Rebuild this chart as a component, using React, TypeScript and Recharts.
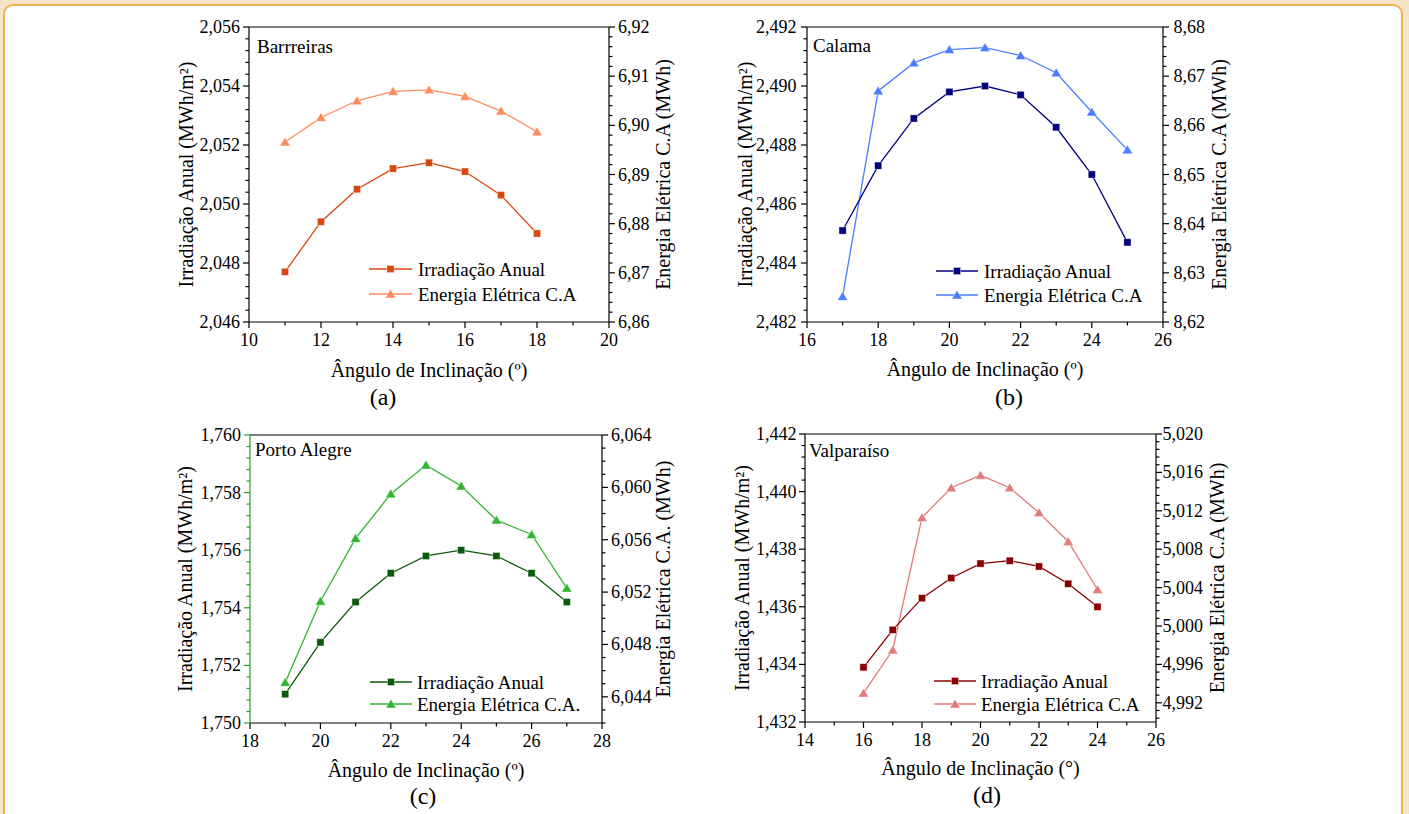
import { LineChart, Line, XAxis, YAxis, ReferenceLine } from 'recharts';

const FONT = '"Liberation Serif", "Times New Roman", Times, serif';

// (a) Barrreiras
const anglesA = [11, 12, 13, 14, 15, 16, 17, 18];
const irradA = [2.0477, 2.0494, 2.0505, 2.0512, 2.0514, 2.0511, 2.0503, 2.049];
const energiaA = [6.8966, 6.9016, 6.905, 6.9069, 6.9072, 6.9059, 6.9029, 6.8987];
const xTicksA = [10, 12, 14, 16, 18, 20];
const leftTicksA = [2.046, 2.048, 2.05, 2.052, 2.054, 2.056];
const rightTicksA = [6.86, 6.87, 6.88, 6.89, 6.9, 6.91, 6.92];

// (b) Calama
const anglesB = [17, 18, 19, 20, 21, 22, 23, 24, 25];
const irradB = [2.4851, 2.4873, 2.4889, 2.4898, 2.49, 2.4897, 2.4886, 2.487, 2.4847];
const energiaB = [8.6252, 8.667, 8.6727, 8.6754, 8.6758, 8.6742, 8.6707, 8.6627, 8.655];
const xTicksB = [16, 18, 20, 22, 24, 26];
const leftTicksB = [2.482, 2.484, 2.486, 2.488, 2.49, 2.492];
const rightTicksB = [8.62, 8.63, 8.64, 8.65, 8.66, 8.67, 8.68];

// (c) Porto Alegre
const anglesC = [19, 20, 21, 22, 23, 24, 25, 26, 27];
const irradC = [1.751, 1.7528, 1.7542, 1.7552, 1.7558, 1.756, 1.7558, 1.7552, 1.7542];
const energiaC = [6.0451, 6.0513, 6.0561, 6.0595, 6.0617, 6.0601, 6.0575, 6.0564, 6.0523];
const xTicksC = [18, 20, 22, 24, 26, 28];
const leftTicksC = [1.75, 1.752, 1.754, 1.756, 1.758, 1.76];
const rightTicksC = [6.044, 6.048, 6.052, 6.056, 6.06, 6.064];

// (d) Valparaíso
const anglesD = [16, 17, 18, 19, 20, 21, 22, 23, 24];
const irradD = [1.4339, 1.4352, 1.4363, 1.437, 1.4375, 1.4376, 1.4374, 1.4368, 1.436];
const energiaD = [4.993, 4.9975, 5.0113, 5.0144, 5.0157, 5.0144, 5.0118, 5.0088, 5.0038];
const xTicksD = [14, 16, 18, 20, 22, 24, 26];
const leftTicksD = [1.432, 1.434, 1.436, 1.438, 1.44, 1.442];
const rightTicksD = [4.992, 4.996, 5.0, 5.004, 5.008, 5.012, 5.016, 5.02];

const fmt = (d: number) => (v: number) => v.toFixed(d).replace('.', ',');

// majors plus evenly spaced minor ticks inside [lo, hi]
function withMinors(majors: number[], sub: number, lo: number, hi: number) {
  const step = (majors[1] - majors[0]) / sub;
  const out: number[] = [];
  for (let k = -200; k <= 200; k++) {
    const v = +(majors[0] + k * step).toFixed(7);
    if (v >= lo - step * 1e-3 && v <= hi + step * 1e-3) out.push(v);
  }
  return out;
}

type Side = 'left' | 'right' | 'bottom';

function axisTick(side: Side, majors: number[], format: (v: number) => string, color: string, gap: number) {
  return (props: any) => {
    const { x, y, payload, index } = props;
    const v = payload.value;
    const isMajor = majors.some((m) => Math.abs(m - v) < 1e-7);
    const len = isMajor ? 6 : 3.5;
    const ls = { stroke: color, strokeWidth: 1.2 };
    const ts = { fontFamily: FONT, fontSize: 18, fill: '#000' };
    if (side === 'bottom') {
      return (
        <g key={`b${index}`}>
          <line x1={x} x2={x} y1={y} y2={y + len} {...ls} />
          {isMajor && (
            <text x={x} y={y + 24} textAnchor="middle" {...ts}>
              {format(v)}
            </text>
          )}
        </g>
      );
    }
    const dir = side === 'left' ? -1 : 1;
    return (
      <g key={`${side}${index}`}>
        <line x1={x} x2={x + dir * len} y1={y} y2={y} {...ls} />
        {isMajor && (
          <text x={x + dir * gap} y={y + 6} textAnchor={side === 'left' ? 'end' : 'start'} {...ts}>
            {format(v)}
          </text>
        )}
      </g>
    );
  };
}

const squareDot = (color: string) => (p: any) => (
  <rect
    key={`s${p.index}`}
    x={p.cx - 3.6}
    y={p.cy - 3.6}
    width={7.2}
    height={7.2}
    fill={color}
    stroke="#ffffff"
    strokeOpacity={0.6}
    strokeWidth={0.7}
  />
);

const triangleDot = (color: string) => (p: any) => (
  <polygon
    key={`t${p.index}`}
    points={`${p.cx},${p.cy - 4.8} ${p.cx - 5.2},${p.cy + 3.9} ${p.cx + 5.2},${p.cy + 3.9}`}
    fill={color}
    stroke="#ffffff"
    strokeOpacity={0.6}
    strokeWidth={0.7}
  />
);

type Panel = {
  angles: number[];
  irrad: number[];
  energia: number[];
  xTicks: number[];
  leftTicks: number[];
  rightTicks: number[];
  xDomain: [number, number];
  leftDomain: [number, number];
  rightDomain: [number, number];
  leftSub: number;
  rightSub: number;
  leftDec: number;
  rightDec: number;
  plot: { x: number; y: number; w: number; h: number };
  sqColor: string;
  triColor: string;
  leftAxisColor: string;
  gapL: number;
  gapR: number;
  city: string;
  cityBase: number;
  cityX: number;
  titleLX: number;
  titleRX: number;
  rightTitle: string;
  xTitle: string;
  xTitleBase: number;
  caption: string;
  capX: number;
  capBase: number;
  legend: { l1: number; l2: number; tx: number; r1: number; r2: number };
  energiaLabel: string;
};

const panels: Panel[] = [
  {
    angles: anglesA, irrad: irradA, energia: energiaA,
    xTicks: xTicksA, leftTicks: leftTicksA, rightTicks: rightTicksA,
    xDomain: [10, 20], leftDomain: [2.046, 2.056], rightDomain: [6.86, 6.92],
    leftSub: 5, rightSub: 5, leftDec: 3, rightDec: 2,
    plot: { x: 249, y: 27, w: 360, h: 295 },
    sqColor: '#d9480f', triColor: '#ff8a5b', leftAxisColor: '#000',
    gapL: 9, gapR: 9,
    city: 'Barrreiras', cityX: 257, cityBase: 53,
    titleLX: 186, titleRX: 663,
    rightTitle: 'Energia Elétrica C.A (MWh)',
    xTitle: 'Ângulo de Inclinação (º)', xTitleBase: 377,
    caption: '(a)', capX: 383, capBase: 405,
    legend: { l1: 369, l2: 412, tx: 418, r1: 269, r2: 294 },
    energiaLabel: 'Energia Elétrica C.A',
  },
  {
    angles: anglesB, irrad: irradB, energia: energiaB,
    xTicks: xTicksB, leftTicks: leftTicksB, rightTicks: rightTicksB,
    xDomain: [16, 26], leftDomain: [2.482, 2.492], rightDomain: [8.62, 8.68],
    leftSub: 5, rightSub: 5, leftDec: 3, rightDec: 2,
    plot: { x: 807, y: 27, w: 356, h: 295 },
    sqColor: '#00007f', triColor: '#4a7dff', leftAxisColor: '#000',
    gapL: 10.5, gapR: 10.5,
    city: 'Calama', cityX: 813, cityBase: 52,
    titleLX: 745, titleRX: 1219,
    rightTitle: 'Energia Elétrica C.A (MWh)',
    xTitle: 'Ângulo de Inclinação (º)', xTitleBase: 376,
    caption: '(b)', capX: 1009, capBase: 405,
    legend: { l1: 936, l2: 978, tx: 984, r1: 271, r2: 295 },
    energiaLabel: 'Energia Elétrica C.A',
  },
  {
    angles: anglesC, irrad: irradC, energia: energiaC,
    xTicks: xTicksC, leftTicks: leftTicksC, rightTicks: rightTicksC,
    xDomain: [18, 28], leftDomain: [1.75, 1.76], rightDomain: [6.042, 6.064],
    leftSub: 5, rightSub: 4, leftDec: 3, rightDec: 3,
    plot: { x: 250, y: 435, w: 352, h: 288 },
    sqColor: '#0b5a0b', triColor: '#33b533', leftAxisColor: '#2a9a2a',
    gapL: 9, gapR: 9,
    city: 'Porto Alegre', cityX: 255, cityBase: 456,
    titleLX: 185, titleRX: 663,
    rightTitle: 'Energia Elétrica C.A. (MWh)',
    xTitle: 'Ângulo de Inclinação (º)', xTitleBase: 777,
    caption: '(c)', capX: 423, capBase: 804,
    legend: { l1: 370, l2: 412, tx: 417, r1: 682, r2: 704 },
    energiaLabel: 'Energia Elétrica C.A.',
  },
  {
    angles: anglesD, irrad: irradD, energia: energiaD,
    xTicks: xTicksD, leftTicks: leftTicksD, rightTicks: rightTicksD,
    xDomain: [14, 26], leftDomain: [1.432, 1.442], rightDomain: [4.99, 5.02],
    leftSub: 5, rightSub: 5, leftDec: 3, rightDec: 3,
    plot: { x: 805, y: 434, w: 351, h: 288 },
    sqColor: '#8b0000', triColor: '#e07b7b', leftAxisColor: '#000',
    gapL: 8.5, gapR: 6.5,
    city: 'Valparaíso', cityX: 809, cityBase: 457,
    titleLX: 742, titleRX: 1217,
    rightTitle: 'Energia Elétrica C.A (MWh)',
    xTitle: 'Ângulo de Inclinação (°)', xTitleBase: 775,
    caption: '(d)', capX: 987, capBase: 803,
    legend: { l1: 934, l2: 976, tx: 981, r1: 681, r2: 704 },
    energiaLabel: 'Energia Elétrica C.A',
  },
];

const PAD = 100;

function PanelChart({ p }: { p: Panel }) {
  const data = p.angles.map((a, i) => ({ angle: a, irrad: p.irrad[i], energia: p.energia[i] }));
  const W = p.plot.w + PAD * 2;
  const H = p.plot.h + 10 + 40;
  const xAll = withMinors(p.xTicks, 2, p.xDomain[0], p.xDomain[1]);
  const lAll = withMinors(p.leftTicks, p.leftSub, p.leftDomain[0], p.leftDomain[1]);
  const rAll = withMinors(p.rightTicks, p.rightSub, p.rightDomain[0], p.rightDomain[1]);
  return (
    <div style={{ position: 'absolute', left: p.plot.x - PAD, top: p.plot.y - 10, width: W, height: H }}>
      <LineChart width={W} height={H} data={data} margin={{ top: 10, right: 0, bottom: 0, left: 0 }}>
        <XAxis
          dataKey="angle"
          type="number"
          domain={p.xDomain}
          ticks={xAll}
          interval={0}
          height={40}
          tickSize={0}
          tickMargin={0}
          tickLine={false}
          axisLine={{ stroke: '#000', strokeWidth: 1.2 }}
          tick={axisTick('bottom', p.xTicks, fmt(0), '#000', 0)}
        />
        <YAxis
          yAxisId="left"
          type="number"
          domain={p.leftDomain}
          ticks={lAll}
          interval={0}
          width={PAD}
          tickSize={0}
          tickMargin={0}
          tickLine={false}
          axisLine={{ stroke: p.leftAxisColor, strokeWidth: 1.2 }}
          tick={axisTick('left', p.leftTicks, fmt(p.leftDec), p.leftAxisColor, p.gapL)}
        />
        <YAxis
          yAxisId="right"
          orientation="right"
          type="number"
          domain={p.rightDomain}
          ticks={rAll}
          interval={0}
          width={PAD}
          tickSize={0}
          tickMargin={0}
          tickLine={false}
          axisLine={{ stroke: '#000', strokeWidth: 1.2 }}
          tick={axisTick('right', p.rightTicks, fmt(p.rightDec), '#000', p.gapR)}
        />
        <ReferenceLine yAxisId="left" y={p.leftDomain[1]} stroke="#000" strokeWidth={1.2} />
        <Line
          yAxisId="right"
          dataKey="energia"
          stroke={p.triColor}
          strokeWidth={1.3}
          dot={triangleDot(p.triColor)}
          activeDot={false}
          isAnimationActive={false}
        />
        <Line
          yAxisId="left"
          dataKey="irrad"
          stroke={p.sqColor}
          strokeWidth={1.3}
          dot={squareDot(p.sqColor)}
          activeDot={false}
          isAnimationActive={false}
        />
      </LineChart>
    </div>
  );
}

function PanelText({ p }: { p: Panel }) {
  const cy = p.plot.y + p.plot.h / 2;
  const cx = p.plot.x + p.plot.w / 2;
  const lm = (p.legend.l1 + p.legend.l2) / 2;
  const t = { fontFamily: FONT, fill: '#000' };
  return (
    <g>
      <text x={p.cityX} y={p.cityBase} fontSize={19} {...t}>
        {p.city}
      </text>
      <text
        x={p.titleLX}
        y={cy}
        fontSize={20}
        textAnchor="middle"
        dominantBaseline="central"
        transform={`rotate(-90 ${p.titleLX} ${cy})`}
        {...t}
      >
        Irradiação Anual (MWh/m²)
      </text>
      <text
        x={p.titleRX}
        y={cy}
        fontSize={20}
        textAnchor="middle"
        dominantBaseline="central"
        transform={`rotate(-90 ${p.titleRX} ${cy})`}
        {...t}
      >
        {p.rightTitle}
      </text>
      <text x={cx} y={p.xTitleBase} fontSize={20} textAnchor="middle" {...t}>
        {p.xTitle}
      </text>
      <text x={p.capX} y={p.capBase} fontSize={24} textAnchor="middle" {...t}>
        {p.caption}
      </text>
      <line x1={p.legend.l1} x2={p.legend.l2} y1={p.legend.r1} y2={p.legend.r1} stroke={p.sqColor} strokeWidth={1.3} />
      {squareDot(p.sqColor)({ cx: lm, cy: p.legend.r1, index: 0 })}
      <text x={p.legend.tx} y={p.legend.r1} fontSize={19} dominantBaseline="central" {...t}>
        Irradiação Anual
      </text>
      <line x1={p.legend.l1} x2={p.legend.l2} y1={p.legend.r2} y2={p.legend.r2} stroke={p.triColor} strokeWidth={1.3} />
      {triangleDot(p.triColor)({ cx: lm, cy: p.legend.r2, index: 0 })}
      <text x={p.legend.tx} y={p.legend.r2} fontSize={19} dominantBaseline="central" {...t}>
        {p.energiaLabel}
      </text>
    </g>
  );
}

export default function App() {
  return (
    <div
      style={{
        position: 'absolute',
        left: 0,
        top: 0,
        width: 1409,
        height: 814,
        overflow: 'hidden',
        background: '#f6e4c9',
        fontFamily: FONT,
      }}
    >
      <div
        style={{
          position: 'absolute',
          left: 3,
          top: 4,
          width: 1400,
          height: 900,
          boxSizing: 'border-box',
          border: '2.5px solid #f0b14f',
          borderRadius: 10,
          background: '#ffffff',
        }}
      />
      {panels.map((p, i) => (
        <PanelChart key={i} p={p} />
      ))}
      <svg width={1409} height={814} style={{ position: 'absolute', left: 0, top: 0, pointerEvents: 'none' }}>
        {panels.map((p, i) => (
          <PanelText key={i} p={p} />
        ))}
      </svg>
    </div>
  );
}
